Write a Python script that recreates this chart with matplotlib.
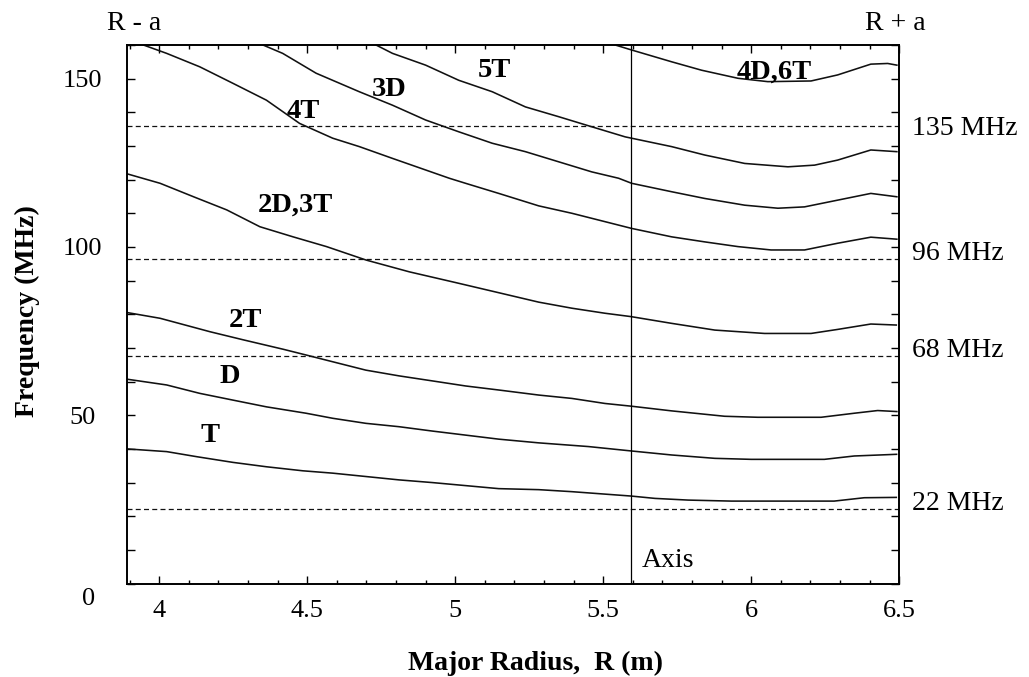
import matplotlib
matplotlib.use("Agg")
import matplotlib.pyplot as plt
from matplotlib.ticker import MultipleLocator, FixedLocator

plt.rcParams['font.family'] = ['Liberation Serif', 'DejaVu Serif']

# ---------------- data ----------------
R_min, R_max = 3.892, 6.5
F_min, F_max = 0, 160
axis_R = 5.595

T_R = [3.892, 4.025, 4.126, 4.249, 4.362, 4.485, 4.586, 4.698, 4.810, 4.923, 5.035, 5.147, 5.282, 5.394, 5.594, 5.675, 5.787, 5.933, 6.067, 6.280, 6.382, 6.490]
T_f = [40.0, 39.2, 37.7, 36.0, 34.7, 33.5, 32.8, 31.8, 30.8, 30.0, 29.1, 28.2, 27.9, 27.3, 26.0, 25.3, 24.8, 24.5, 24.5, 24.5, 25.5, 25.6]

D_R = [3.892, 4.025, 4.137, 4.249, 4.362, 4.496, 4.586, 4.698, 4.810, 4.923, 5.035, 5.147, 5.282, 5.450, 5.594, 5.731, 5.877, 6.000, 6.247, 6.348, 6.491]
D_f = [60.7, 59.0, 56.5, 54.5, 52.5, 50.6, 49.1, 47.6, 46.6, 45.3, 44.1, 42.9, 41.8, 40.7, 39.4, 38.2, 37.2, 36.9, 36.9, 37.9, 38.4]

T2_R = [3.892, 4.003, 4.172, 4.284, 4.419, 4.496, 4.608, 4.698, 4.810, 4.923, 5.035, 5.147, 5.282, 5.394, 5.506, 5.594, 5.731, 5.910, 6.022, 6.236, 6.348, 6.427, 6.492]
T2_f = [80.5, 78.8, 74.8, 72.4, 69.6, 67.9, 65.4, 63.4, 61.7, 60.2, 58.7, 57.5, 56.0, 55.0, 53.5, 52.7, 51.3, 49.7, 49.4, 49.4, 50.6, 51.4, 51.1]

D2T3_R = [3.892, 4.003, 4.116, 4.228, 4.340, 4.452, 4.565, 4.699, 4.845, 5.002, 5.147, 5.282, 5.394, 5.506, 5.594, 5.731, 5.877, 6.045, 6.202, 6.292, 6.404, 6.490]
D2T3_f = [121.7, 118.9, 114.9, 111.0, 106.0, 103.0, 100.1, 96.1, 92.6, 89.4, 86.4, 83.6, 81.8, 80.3, 79.3, 77.3, 75.3, 74.3, 74.3, 75.5, 77.1, 76.8]

T4_R = [3.946, 4.025, 4.137, 4.249, 4.362, 4.474, 4.586, 4.676, 4.788, 4.980, 5.035, 5.147, 5.282, 5.394, 5.596, 5.731, 5.843, 5.955, 6.067, 6.180, 6.292, 6.404, 6.492]
T4_f = [160.0, 157.5, 153.5, 148.6, 143.6, 136.7, 132.3, 129.8, 126.3, 120.4, 118.9, 115.9, 112.2, 110.0, 105.5, 103.0, 101.5, 100.1, 99.1, 99.1, 101.1, 102.9, 102.3]

D3_R = [4.350, 4.417, 4.530, 4.676, 4.788, 4.900, 5.012, 5.125, 5.237, 5.349, 5.461, 5.552, 5.596, 5.731, 5.843, 5.978, 6.090, 6.180, 6.292, 6.404, 6.492]
D3_f = [160.0, 157.5, 151.6, 146.1, 142.1, 137.7, 134.2, 130.8, 128.3, 125.3, 122.3, 120.4, 118.9, 116.4, 114.4, 112.4, 111.5, 111.9, 113.9, 115.9, 114.9]

T5_R = [4.732, 4.788, 4.900, 5.012, 5.125, 5.237, 5.349, 5.461, 5.574, 5.731, 5.843, 5.978, 6.124, 6.214, 6.292, 6.404, 6.492]
T5_f = [160.0, 157.5, 154.0, 149.5, 146.1, 141.6, 138.7, 135.7, 132.7, 129.8, 127.3, 124.8, 123.8, 124.3, 125.8, 128.8, 128.3]

D4T6_R = [5.540, 5.596, 5.731, 5.832, 5.955, 6.056, 6.202, 6.292, 6.404, 6.461, 6.492]
D4T6_f = [160.0, 158.5, 155.0, 152.5, 150.1, 149.1, 149.3, 151.1, 154.3, 154.5, 154.0]

curves_R = [T_R, D_R, T2_R, D2T3_R, T4_R, D3_R, T5_R, D4T6_R]
curves_f = [T_f, D_f, T2_f, D2T3_f, T4_f, D3_f, T5_f, D4T6_f]

curve_labels = ["T", "D", "2T", "2D,3T", "4T", "3D", "5T", "4D,6T"]
label_R = [4.172, 4.238, 4.291, 4.460, 4.485, 4.777, 5.131, 6.076]
label_f = [42.1, 59.5, 76.3, 110.5, 138.2, 144.8, 150.6, 150.1]

heat_f = [136.0, 96.3, 67.7, 22.1]
heat_labels = ["135 MHz", "96 MHz", "68 MHz", "22 MHz"]
heat_label_f = [133.2, 96.1, 67.4, 21.9]

xticks = [4, 4.5, 5, 5.5, 6, 6.5]
xtick_labels = ["4", "4.5", "5", "5.5", "6", "6.5"]
yticks = [0, 50, 100, 150]
ytick_labels = ["", "50", "100", "150"]

# ---------------- figure ----------------
fig = plt.figure(figsize=(10.29, 6.77), dpi=100)
ax = fig.add_axes([0.1237, 0.138, 0.7502, 0.7956])
ax.set_xlim(R_min, R_max)
ax.set_ylim(F_min, F_max)

ink = "#111111"
for Rs, fs in zip(curves_R, curves_f):
    ax.plot(Rs, fs, color=ink, lw=1.15, solid_joinstyle="round")

for hf in heat_f:
    ax.axhline(hf, color=ink, lw=0.9, linestyle=(0, (4, 2.6)))

ax.axvline(axis_R, color="black", lw=0.9)

for txt, x, y in zip(curve_labels, label_R, label_f):
    ax.text(x, y, txt, ha="center", va="baseline", fontsize=20.5,
            fontweight="bold", color="black")

for txt, y in zip(heat_labels, heat_label_f):
    ax.annotate(txt, xy=(1.0, y), xycoords=("axes fraction", "data"),
                xytext=(9, 0), textcoords="offset points",
                ha="left", va="baseline", fontsize=20, annotation_clip=False)

ax.text(5.63, 5.0, "Axis", ha="left", va="baseline", fontsize=20)

ax.annotate("R - a", xy=(R_min, 1.0), xycoords=("data", "axes fraction"),
            xytext=(5, 11), textcoords="offset points",
            ha="center", va="baseline", fontsize=20, annotation_clip=False)
ax.annotate("R + a", xy=(R_max, 1.0), xycoords=("data", "axes fraction"),
            xytext=(-3, 11), textcoords="offset points",
            ha="center", va="baseline", fontsize=20, annotation_clip=False)

# ticks
ax.xaxis.set_major_locator(FixedLocator(xticks))
ax.set_xticklabels(xtick_labels)
ax.xaxis.set_minor_locator(MultipleLocator(0.1))
ax.yaxis.set_major_locator(FixedLocator(yticks))
ax.set_yticklabels(ytick_labels)
ax.yaxis.set_minor_locator(MultipleLocator(10))

ax.tick_params(axis="both", which="both", direction="in", top=True, right=True,
               colors="black", labelsize=19)
ax.tick_params(axis="x", which="major", length=6, width=1.0, pad=12)
ax.tick_params(axis="x", which="minor", length=3, width=1.0)
ax.tick_params(axis="y", which="major", length=5.5, width=1.0, pad=32)
ax.tick_params(axis="y", which="minor", length=5.5, width=1.0)
for lab in ax.get_yticklabels():
    lab.set_horizontalalignment("center")

# the "0" label sits below-left of the corner
ax.annotate("0", xy=(0.0, 0.0), xycoords="axes fraction", xytext=(-28, -11),
            textcoords="offset points", ha="center", va="center", fontsize=19,
            annotation_clip=False)

for s in ax.spines.values():
    s.set_linewidth(1.4)
    s.set_color("black")

fig.text(535.7 / 1029, 1 - 663 / 677, "Major Radius,  R (m)", ha="center",
         va="center", fontsize=20, fontweight="bold")
fig.text(27 / 1029, 1 - 311.5 / 677, "Frequency (MHz)", ha="center",
         va="center", rotation=90, fontsize=20, fontweight="bold")

fig.savefig("out.png", dpi=100)
